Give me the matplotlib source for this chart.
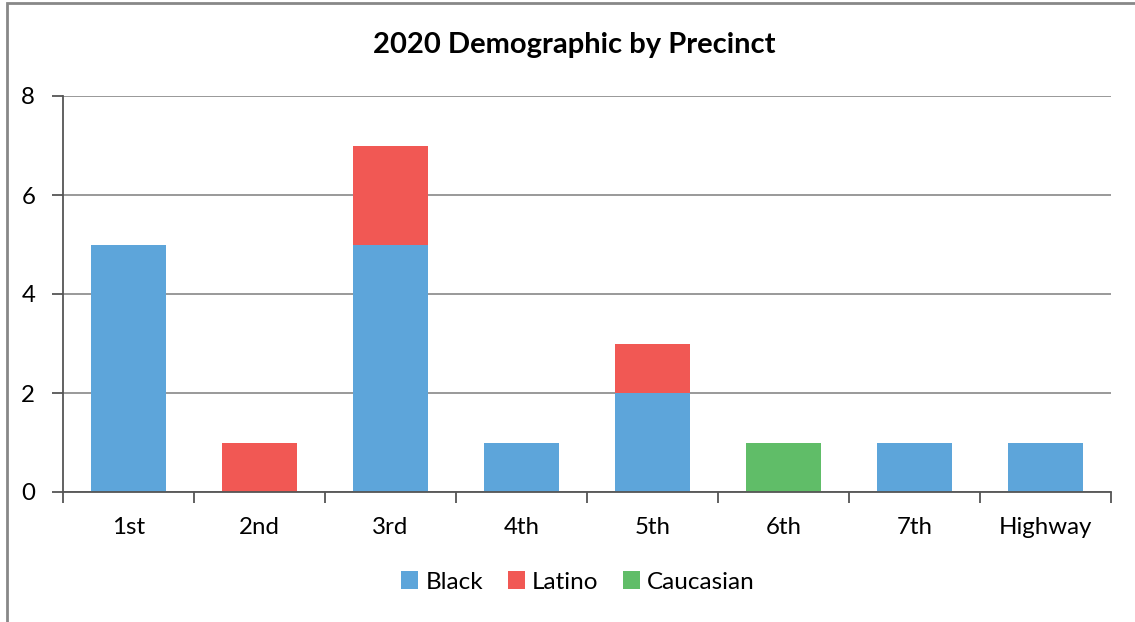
import matplotlib.pyplot as plt
import numpy as np
from matplotlib.patches import Rectangle

precincts = ['1st', '2nd', '3rd', '4th', '5th', '6th', '7th', 'Highway']
black = [5, 0, 5, 1, 2, 0, 1, 1]
latino = [0, 1, 2, 0, 1, 0, 0, 0]
caucasian = [0, 0, 0, 0, 0, 1, 0, 0]

plt.rcParams['font.family'] = ['Lato', 'DejaVu Sans']

fig = plt.figure(figsize=(11.35, 6.22), dpi=100)
ax = fig.add_axes([63/1135, 1 - 492/622, 1048/1135, 396/622])

# chart border (cropped on right and bottom)
fig.patches.append(Rectangle((7/1135, -0.1), 1.2, 1 - 3/622 + 0.1, transform=fig.transFigure,
                             fill=False, edgecolor='#888888', linewidth=2))

x = np.arange(len(precincts))
w = 0.565
b = np.array(black)
l = np.array(latino)
ax.bar(x, black, w, color='#5DA5DA', label='Black')
ax.bar(x, latino, w, bottom=b, color='#F15854', label='Latino')
ax.bar(x, caucasian, w, bottom=b + l, color='#60BD68', label='Caucasian')

ax.set_xlim(-0.5, len(precincts) - 0.5)
ax.set_ylim(0, 8)
ax.set_yticks([0, 2, 4, 6, 8])
ax.set_xticks(x)
ax.set_xticklabels(precincts)
ax.set_xticks(np.arange(len(precincts) + 1) - 0.5, minor=True)
ax.tick_params(axis='x', which='major', length=0, pad=18, labelsize=17.3)
ax.tick_params(axis='x', which='minor', length=8, width=1.3, color='#555555')
ax.tick_params(axis='y', length=8, width=1.3, color='#555555', pad=12, labelsize=17.3)
ax.grid(axis='y', color='#888888', linewidth=1.2)
ax.set_axisbelow(True)
for s in ['top', 'right']:
    ax.spines[s].set_visible(False)
for s in ['left', 'bottom']:
    ax.spines[s].set_color('#555555')
    ax.spines[s].set_linewidth(1.3)

fig.text(574/1135, 1 - 45/622, '2020 Demographic by Precinct', ha='center', va='center',
         fontsize=21, fontweight='bold')
fig.legend(loc='center', bbox_to_anchor=(578/1135, 1 - 582/622), ncol=3, frameon=False,
           fontsize=17.5, handlelength=0.7, handleheight=0.7, handletextpad=0.3, columnspacing=1.0)

fig.savefig('out.png', dpi=100)
